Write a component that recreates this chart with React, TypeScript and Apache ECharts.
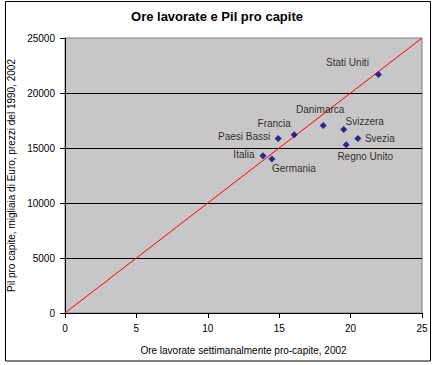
import React, { useEffect, useRef } from "react";
import * as echarts from "echarts";

const countries = ["Stati Uniti", "Danimarca", "Svizzera", "Svezia", "Regno Unito", "Francia", "Paesi Bassi", "Italia", "Germania"];
const hoursWorked = [21.95, 18.08, 19.52, 20.51, 19.69, 16.05, 14.93, 13.86, 14.49];
const gdpPerCapita = [21690, 17055, 16690, 15870, 15300, 16210, 15870, 14300, 14000];
const referenceLine = [[0, 0], [25, 25000]];

const labelOffsets: Record<string, [number, number]> = {
  "Stati Uniti": [-31, -12],
  "Danimarca": [-3, -16],
  "Svizzera": [21, -8],
  "Svezia": [22, 0],
  "Regno Unito": [19, 12],
  "Francia": [-20, -11],
  "Paesi Bassi": [-34, -2],
  "Italia": [-19, -1],
  "Germania": [22, 9],
};

const FONT = "Arial, 'Liberation Sans', sans-serif";

export default function App() {
  const ref = useRef<HTMLDivElement>(null);
  useEffect(() => {
    if (!ref.current) return;
    const chart = echarts.init(ref.current, null, { renderer: "svg" });
    const points = countries.map((name, i) => ({
      name,
      value: [hoursWorked[i], gdpPerCapita[i]],
      label: {
        show: true,
        position: "inside",
        offset: labelOffsets[name],
        formatter: name,
        color: "#000",
        fontSize: 10,
        fontFamily: FONT,
      },
    }));
    chart.setOption({
      animation: false,
      backgroundColor: "#ffffff",
      title: {
        text: "Ore lavorate e Pil pro capite",
        left: "center",
        top: 5,
        textStyle: { fontSize: 13, fontWeight: "bold", color: "#000", fontFamily: FONT },
      },
      graphic: [
        {
          type: "rect",
          shape: { x: 5.5, y: 1.5, width: 425, height: 359.5 },
          style: { fill: "none", stroke: "#000", lineWidth: 1 },
          silent: true,
          z: -1,
        },
      ],
      grid: {
        left: 65,
        top: 38,
        right: 12,
        bottom: 52,
        containLabel: false,
        outerBoundsMode: "none",
        show: true,
        backgroundColor: "#c8c6c6",
        borderColor: "#808080",
        borderWidth: 1,
      },
      xAxis: {
        type: "value",
        min: 0,
        max: 25,
        interval: 5,
        name: "Ore lavorate settimanalmente pro-capite, 2002",
        nameLocation: "middle",
        nameGap: 32,
        nameTextStyle: { fontSize: 10, color: "#000", fontFamily: FONT },
        axisLine: { show: true, onZero: false, lineStyle: { color: "#000", width: 1 } },
        axisTick: { show: true, inside: false, length: 5, lineStyle: { color: "#000" } },
        axisLabel: { fontSize: 10, color: "#000", fontFamily: FONT, margin: 10 },
        splitLine: { show: false },
      },
      yAxis: {
        type: "value",
        min: 0,
        max: 25000,
        interval: 5000,
        name: "Pil pro capite, migliaia di Euro, prezzi del 1990, 2002",
        nameLocation: "middle",
        nameGap: 43,
        nameTextStyle: { fontSize: 10, color: "#000", fontFamily: FONT },
        axisLine: { show: true, onZero: false, lineStyle: { color: "#000", width: 1 } },
        axisTick: { show: true, inside: false, length: 5, lineStyle: { color: "#000" } },
        axisLabel: { fontSize: 10, color: "#000", fontFamily: FONT, margin: 10, formatter: (v: number) => String(v) },
        splitLine: { show: true, showMinLine: false, showMaxLine: false, lineStyle: { color: "#000", width: 1 } },
      },
      series: [
        {
          type: "line",
          data: referenceLine,
          symbol: "none",
          lineStyle: { color: "#ff0000", width: 1 },
          silent: true,
          z: 2,
        },
        {
          type: "scatter",
          data: points,
          symbol: "diamond",
          symbolSize: 7,
          itemStyle: { color: "#000080" },
          z: 3,
        },
      ],
    });
    return () => chart.dispose();
  }, []);
  return <div ref={ref} style={{ position: "fixed", left: 0, top: 0, width: 434, height: 365 }} />;
}
